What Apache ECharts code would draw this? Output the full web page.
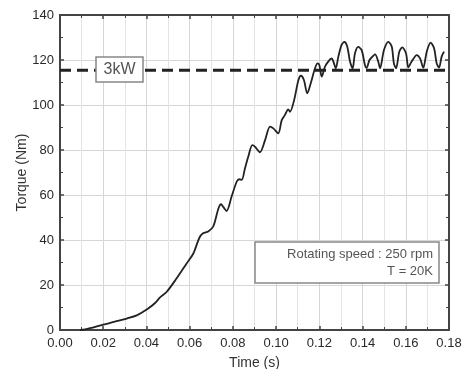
<!DOCTYPE html>
<html>
<head>
<meta charset="utf-8">
<script src="https://cdn.jsdelivr.net/npm/echarts@6/dist/echarts.min.js"></script>
<style>html,body{margin:0;padding:0;background:#fff}#c{width:463px;height:369px}</style>
</head>
<body>
<div id="c"></div>
<script>
const timeS = [0.0093,0.0116,0.0139,0.0200,0.0254,0.0309,0.0355,0.0403,0.0440,0.0463,0.0494,0.0540,0.0586,0.0617,0.0645,0.0662,0.0686,0.0709,0.0733,0.0745,0.0757,0.0771,0.0794,0.0818,0.0830,0.0841,0.0856,0.0871,0.0890,0.0902,0.0925,0.0949,0.0972,0.0987,0.1010,0.1026,0.1041,0.1056,0.1064,0.1083,0.1103,0.1115,0.1129,0.1144,0.1160,0.1180,0.1192,0.1200,0.1211,0.1226,0.1241,0.1257,0.1265,0.1276,0.1288,0.1303,0.1316,0.1329,0.1342,0.1354,0.1365,0.1380,0.1396,0.1411,0.1419,0.1432,0.1446,0.1458,0.1472,0.1481,0.1499,0.1519,0.1535,0.1545,0.1555,0.1570,0.1584,0.1601,0.1612,0.1627,0.1651,0.1666,0.1681,0.1697,0.1715,0.1731,0.1743,0.1754,0.1766,0.1777];
const torqueNm = [0,0.3,0.8,2.4,3.7,5.1,6.5,9.2,12,14.5,17,23,29.6,34,41,43,43.8,46,54,55.9,54.5,52.9,59.3,66,67,66.7,71.9,77,82.2,81.5,79,84.4,90.4,89.6,87.4,93.3,95.6,98.1,97,102,111,113,111,105.2,109.6,116.3,118.5,117.8,112.6,117,119.3,120.7,119.3,116.3,121.5,126.7,128,126,119.3,116.3,123,125.8,124.4,117.8,116.5,120,121.5,122.5,119.5,116.3,124.4,128.1,126,118.5,116.3,123.7,125.6,123,116.7,119.3,122.2,120.7,116.6,123.7,127.7,125.2,118.5,116.6,121.5,123.7];
const ratedTorque = 115.5;
const ratedLabel = '3kW';
const noteLines = ['Rotating speed : 250 rpm', 'T = 20K'];
const xTicks = {min: 0, max: 0.18, interval: 0.02};
const yTicks = {min: 0, max: 140, interval: 20};

const chart = echarts.init(document.getElementById('c'), null, {renderer: 'canvas'});
const axisCol = '#444';
const font = 'Liberation Sans, Arial, sans-serif';
const baseX = {
  type: 'value', min: xTicks.min, max: xTicks.max, interval: xTicks.interval,
  axisLine: {show: true, onZero: false, lineStyle: {color: axisCol, width: 2}},
  axisTick: {show: true, inside: true, length: 4, lineStyle: {color: axisCol, width: 1.5}},
  minorTick: {show: true, splitNumber: 2, length: 3, lineStyle: {color: axisCol, width: 1}},
};
const baseY = {
  type: 'value', min: yTicks.min, max: yTicks.max, interval: yTicks.interval,
  axisLine: {show: true, onZero: false, lineStyle: {color: axisCol, width: 2}},
  axisTick: {show: true, inside: true, length: 4, lineStyle: {color: axisCol, width: 1.5}},
  minorTick: {show: true, splitNumber: 2, length: 3, lineStyle: {color: axisCol, width: 1}},
};
chart.setOption({
  animation: false,
  grid: {left: 60, right: 14, top: 15, bottom: 39, containLabel: false, outerBoundsMode: 'none'},
  xAxis: [
    Object.assign({}, baseX, {
      position: 'bottom', name: 'Time (s)', nameLocation: 'middle', nameGap: 26, nameMoveOverlap: false,
      nameTextStyle: {fontFamily: font, fontSize: 14, color: '#333'},
      axisLabel: {fontFamily: font, fontSize: 13, color: '#2a2a2a', margin: 7, formatter: v => v.toFixed(2)},
      splitLine: {show: true, lineStyle: {color: '#d6d6d6', width: 1}},
      minorSplitLine: {show: true, lineStyle: {color: '#e4e4e4', width: 1}}
    }),
    Object.assign({}, baseX, {position: 'top', axisLabel: {show: false}, splitLine: {show: false}})
  ],
  yAxis: [
    Object.assign({}, baseY, {
      position: 'left', name: 'Torque (Nm)', nameLocation: 'middle', nameGap: 31, nameMoveOverlap: false,
      nameTextStyle: {fontFamily: font, fontSize: 14, color: '#333'},
      axisLabel: {fontFamily: font, fontSize: 13, color: '#2a2a2a', margin: 6},
      splitLine: {show: true, lineStyle: {color: '#d6d6d6', width: 1}}
    }),
    Object.assign({}, baseY, {position: 'right', axisLabel: {show: false}, splitLine: {show: false}})
  ],
  series: [
    {
      type: 'line', xAxisIndex: 0, yAxisIndex: 0, showSymbol: false, silent: true,
      data: [[xTicks.min, ratedTorque], [xTicks.max, ratedTorque]],
      lineStyle: {color: '#222', width: 3, type: [11, 6]}, z: 3
    },
    {
      type: 'line', xAxisIndex: 0, yAxisIndex: 0, showSymbol: false, smooth: 0.3,
      data: timeS.map((t, i) => [t, torqueNm[i]]),
      lineStyle: {color: '#222', width: 1.8}, z: 4
    }
  ],
  graphic: [
    {type: 'rect', z: 100, shape: {x: 96, y: 57, width: 47, height: 25},
     style: {fill: '#fff', stroke: '#888', lineWidth: 1.5}},
    {type: 'text', z: 101, x: 119.5, y: 70,
     style: {text: ratedLabel, fill: '#555', font: '16px ' + font, textAlign: 'center', textVerticalAlign: 'middle'}},
    {type: 'rect', z: 100, shape: {x: 255, y: 242, width: 184, height: 41},
     style: {fill: '#fff', stroke: '#888', lineWidth: 1.5}},
    {type: 'text', z: 101, x: 433, y: 254,
     style: {text: noteLines[0], fill: '#555', font: '13px ' + font, textAlign: 'right', textVerticalAlign: 'middle'}},
    {type: 'text', z: 101, x: 433, y: 271.5,
     style: {text: noteLines[1], fill: '#555', font: '13px ' + font, textAlign: 'right', textVerticalAlign: 'middle'}}
  ]
});
</script>
</body>
</html>
